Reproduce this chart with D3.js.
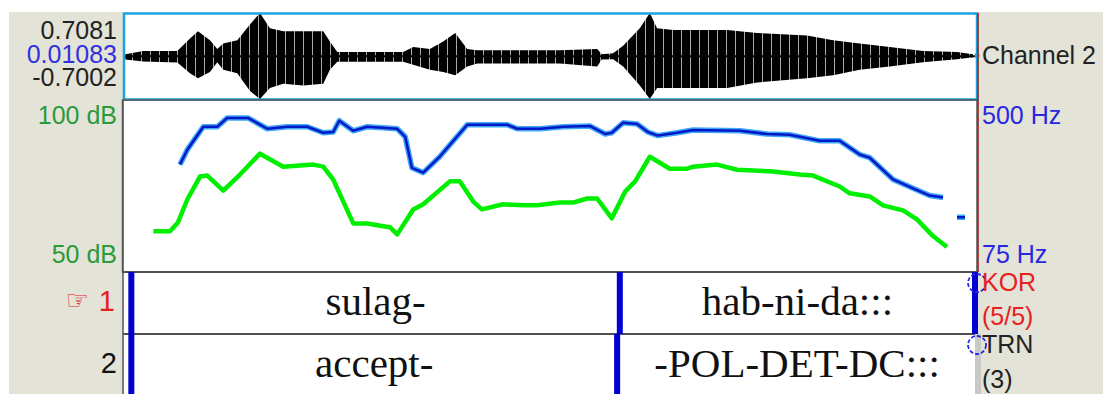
<!DOCTYPE html>
<html>
<head>
<meta charset="utf-8">
<script src="https://cdn.jsdelivr.net/npm/d3@7"></script>
<style>
  body { margin: 0; background: #fff; }
  svg { display: block; }
  .lab { font-family: "Liberation Sans", Arial, sans-serif; font-size: 25px; }
  .tier { font-family: "Liberation Serif", "Times New Roman", serif; font-size: 41px; fill: #111; }
</style>
</head>
<body>
<svg width="1106" height="394"></svg>
<script>
// time in seconds
var timeDomain = [0, 1.28];

// waveform envelope (upper / lower amplitude)
var waveTime = [0.002, 0.029, 0.080, 0.099, 0.111, 0.129, 0.140, 0.149, 0.170, 0.189, 0.204, 0.219, 0.239, 0.269, 0.299, 0.309, 0.320, 0.419, 0.434, 0.459, 0.479, 0.497, 0.515, 0.530, 0.654, 0.710, 0.717, 0.734, 0.749, 0.774, 0.789, 0.800, 0.824, 0.905, 0.950, 1.025, 1.064, 1.104, 1.149, 1.199, 1.250, 1.274];
var waveUpper = [0.034, 0.086, 0.086, 0.29, 0.41, 0.26, 0.12, 0.21, 0.26, 0.52, 0.71, 0.46, 0.41, 0.41, 0.41, 0.24, 0.07, 0.07, 0.15, 0.12, 0.24, 0.38, 0.12, 0.10, 0.10, 0.12, 0.034, 0.05, 0.17, 0.46, 0.71, 0.46, 0.43, 0.43, 0.38, 0.34, 0.26, 0.21, 0.15, 0.086, 0.07, 0.034];
var waveLower = [-0.052, -0.086, -0.103, -0.28, -0.36, -0.26, -0.10, -0.22, -0.28, -0.57, -0.70, -0.52, -0.45, -0.48, -0.45, -0.22, -0.09, -0.09, -0.14, -0.22, -0.26, -0.31, -0.17, -0.12, -0.12, -0.17, -0.052, -0.05, -0.17, -0.48, -0.70, -0.52, -0.52, -0.52, -0.43, -0.36, -0.31, -0.22, -0.17, -0.10, -0.05, -0.017];
var ampLabels = ['0.7081', '0.01083', '-0.7002'];
var ampDomain = [-0.7002, 0.7081];

// pitch (Hz), NaN = unvoiced gap
var pitchTime = [0.084, 0.095, 0.119, 0.140, 0.155, 0.186, 0.215, 0.245, 0.275, 0.299, 0.314, 0.323, 0.344, 0.365, 0.410, 0.422, 0.432, 0.449, 0.474, 0.515, 0.575, 0.590, 0.624, 0.659, 0.699, 0.722, 0.732, 0.749, 0.770, 0.786, 0.801, 0.830, 0.854, 0.924, 0.965, 0.999, 1.044, 1.074, 1.104, 1.119, 1.154, 1.184, 1.209, 1.229, 1.240, 1.250, 1.262];
var pitchHz = [342, 379, 436, 436, 458, 458, 431, 436, 436, 421, 423, 451, 426, 436, 431, 411, 334, 322, 362, 441, 441, 431, 431, 436, 438, 418, 421, 446, 443, 423, 414, 421, 428, 426, 418, 416, 401, 401, 367, 359, 305, 283, 265, 260, NaN, 211, 211];
var pitchRange = [75, 500];

// intensity (dB)
var intTime = [0.044, 0.069, 0.081, 0.095, 0.114, 0.125, 0.149, 0.174, 0.204, 0.239, 0.284, 0.299, 0.314, 0.344, 0.365, 0.389, 0.399, 0.410, 0.434, 0.449, 0.489, 0.504, 0.524, 0.537, 0.569, 0.599, 0.620, 0.654, 0.674, 0.695, 0.710, 0.732, 0.752, 0.767, 0.789, 0.819, 0.845, 0.854, 0.890, 0.920, 0.974, 1.014, 1.034, 1.074, 1.089, 1.119, 1.139, 1.169, 1.190, 1.214, 1.235];
var intDb = [61.9, 61.9, 64.5, 71.2, 77.9, 78.2, 73.8, 78.5, 84.6, 80.8, 81.4, 80.8, 77.0, 64.2, 64.2, 63.4, 63.1, 61.0, 68.3, 69.8, 76.5, 76.5, 70.6, 68.3, 69.8, 69.5, 69.5, 70.3, 70.3, 71.5, 71.5, 65.7, 73.5, 76.5, 83.7, 80.2, 80.2, 80.8, 81.4, 79.9, 79.4, 78.5, 78.2, 75.0, 73.0, 72.1, 69.5, 68.0, 65.4, 60.5, 57.3];
var intRange = [50, 100];

// tiers
var tier1Bounds = [0.011, 0.744, 1.277];
var tier1Labels = ['sulag-', 'hab-ni-da:::'];
var tier2Bounds = [0.011, 0.740, 1.28];
var tier2Labels = ['accept-', '-POL-DET-DC:::'];

var svg = d3.select('svg');
var beige = '#e3e3d7';
var frame = {l: 123, r: 977};
var wave = {t: 13, b: 99};
var spec = {t: 100, b: 272};
var tiers = [{t: 272, b: 334}, {t: 334, b: 394}];

var x = d3.scaleLinear().domain(timeDomain).range([124, 977]);
var yAmp = d3.scaleLinear().domain(ampDomain).range([wave.b, wave.t]);
var yHz = d3.scaleLinear().domain(pitchRange).range([spec.b, spec.t + 1]);
var yDb = d3.scaleLinear().domain(intRange).range([spec.b, spec.t + 1]);

// striped look of the sampled waveform
var defs = svg.append('defs');
var pat = defs.append('pattern').attr('id', 'stripes').attr('patternUnits', 'userSpaceOnUse')
    .attr('width', 9).attr('height', 400);
pat.append('rect').attr('width', 9).attr('height', 400).attr('fill', '#000');
pat.append('rect').attr('x', 6).attr('width', 1).attr('height', 400).attr('fill', '#a8a8a8');

// side panels
svg.append('rect').attr('x', 9).attr('y', 12).attr('width', frame.l - 9).attr('height', 394 - 12).attr('fill', beige);
svg.append('rect').attr('x', frame.r).attr('y', 12).attr('width', 1103 - frame.r).attr('height', 394 - 12).attr('fill', beige);
svg.append('rect').attr('x', frame.l).attr('y', 12).attr('width', frame.r - frame.l).attr('height', 382).attr('fill', '#fff');

// waveform
var waveData = waveTime.map(function(t, i) { return {t: t, up: waveUpper[i], lo: waveLower[i]}; });
svg.append('path')
    .datum(waveData)
    .attr('fill', 'url(#stripes)')
    .attr('d', d3.area().x(d => x(d.t)).y0(d => yAmp(d.lo)).y1(d => yAmp(d.up)));
svg.append('line').attr('x1', x(0)).attr('x2', x(1.28)).attr('y1', yAmp(0)).attr('y2', yAmp(0))
    .attr('stroke', '#000').attr('stroke-width', 2);
svg.append('rect')
    .attr('x', frame.l + 1).attr('y', wave.t + 0.5)
    .attr('width', frame.r - frame.l - 1).attr('height', wave.b - wave.t)
    .attr('fill', 'none').attr('stroke', '#1ea3dc').attr('stroke-width', 2.5);
svg.append('circle').attr('cx', frame.r).attr('cy', yAmp(0.01083)).attr('r', 2.5).attr('fill', '#1ea3dc');

// pitch + intensity box
svg.append('rect')
    .attr('x', frame.l - 0.5).attr('y', spec.t)
    .attr('width', frame.r - frame.l + 0.5).attr('height', spec.b - spec.t)
    .attr('fill', 'none').attr('stroke', '#555').attr('stroke-width', 1.5);

var intData = intTime.map(function(t, i) { return {t: t, v: intDb[i]}; });
svg.append('path')
    .datum(intData)
    .attr('fill', 'none').attr('stroke', '#00ee00').attr('stroke-width', 4.5)
    .attr('stroke-linejoin', 'round')
    .attr('d', d3.line().x(d => x(d.t)).y(d => yDb(d.v)));

var pitchData = pitchTime.map(function(t, i) { return {t: t, v: pitchHz[i]}; });
var pitchLine = d3.line().defined(d => !isNaN(d.v)).x(d => x(d.t)).y(d => yHz(d.v));
svg.append('path').datum(pitchData)
    .attr('fill', 'none').attr('stroke', '#3fa6f5').attr('stroke-width', 5.5)
    .attr('stroke-linejoin', 'round').attr('d', pitchLine);
svg.append('path').datum(pitchData)
    .attr('fill', 'none').attr('stroke', '#0018c8').attr('stroke-width', 2.5)
    .attr('stroke-linejoin', 'round').attr('d', pitchLine);

// cursor at end of selection
svg.append('line').attr('x1', 978).attr('x2', 978).attr('y1', wave.t).attr('y2', spec.b)
    .attr('stroke', '#222').attr('stroke-width', 1.2);
svg.append('line').attr('x1', 978).attr('x2', 978).attr('y1', wave.t).attr('y2', spec.b)
    .attr('stroke', '#ee2020').attr('stroke-width', 1.4).attr('stroke-dasharray', '5,3');

// tiers
tiers.forEach(function(tr) {
    svg.append('line').attr('x1', frame.l).attr('x2', frame.r).attr('y1', tr.t).attr('y2', tr.t)
        .attr('stroke', '#505050').attr('stroke-width', 2);
});
svg.append('line').attr('x1', frame.l).attr('x2', frame.l).attr('y1', spec.t).attr('y2', 394)
    .attr('stroke', '#555').attr('stroke-width', 1.5);
svg.append('rect').attr('x', 975).attr('y', tiers[1].t).attr('width', 6).attr('height', 394 - tiers[1].t).attr('fill', '#c8c8c8');

function drawTier(bounds, labels, tr, lastBlue) {
    var n = lastBlue ? bounds.length : bounds.length - 1;
    svg.selectAll(null)
        .data(bounds.slice(0, n))
        .enter()
        .append('rect')
        .attr('x', d => x(d) - 3)
        .attr('y', tr.t)
        .attr('width', 6)
        .attr('height', tr.b - tr.t)
        .attr('fill', '#0000d0');
    svg.selectAll(null)
        .data(labels)
        .enter()
        .append('text')
        .attr('class', 'tier')
        .attr('x', (d, i) => (x(bounds[i]) + x(bounds[i + 1])) / 2)
        .attr('y', tr.t + 43)
        .attr('text-anchor', 'middle')
        .text(d => d);
}
drawTier(tier1Bounds, tier1Labels, tiers[0], true);
drawTier(tier2Bounds, tier2Labels, tiers[1], false);

svg.selectAll(null)
    .data([283, 345])
    .enter()
    .append('circle')
    .attr('cx', 977).attr('cy', d => d).attr('r', 9)
    .attr('fill', 'none').attr('stroke', '#2a2ae0').attr('stroke-width', 1.8)
    .attr('stroke-dasharray', '4,2');

// labels
var lab = svg.append('g').attr('class', 'lab');
var ampColors = ['#222', '#3030e0', '#222'];
lab.selectAll('.amp')
    .data(ampLabels)
    .enter()
    .append('text')
    .attr('class', 'amp')
    .attr('x', 117)
    .attr('y', (d, i) => 39 + i * 23.5)
    .attr('text-anchor', 'end')
    .attr('fill', (d, i) => ampColors[i])
    .text(d => d);

function label(txt, xx, yy, color, anchor) {
    return lab.append('text').attr('x', xx).attr('y', yy)
        .attr('text-anchor', anchor || 'start')
        .attr('fill', color).text(txt);
}
label(intRange[1] + ' dB', 117, 124, '#2b9a3b', 'end');
label(intRange[0] + ' dB', 117, 263, '#2b9a3b', 'end');
label(pitchRange[1] + ' Hz', 982, 124, '#2828e0');
label(pitchRange[0] + ' Hz', 982, 263, '#2828e0');
label('Channel 2', 982, 64, '#222');
label('KOR', 982, 291, '#e82020');
label('(5/5)', 982, 325, '#e82020');
label('TRN', 982, 353, '#222');
label('(3)', 982, 388, '#222');

lab.append('text').attr('x', 89).attr('y', 309).attr('text-anchor', 'end').attr('fill', '#e82020')
    .attr('font-family', 'DejaVu Sans').attr('font-size', 26).text('\u261E');
label('1', 115, 311, '#e82020', 'end').attr('font-size', 29);
label('2', 117, 373, '#111', 'end').attr('font-size', 29);
</script>
</body>
</html>
